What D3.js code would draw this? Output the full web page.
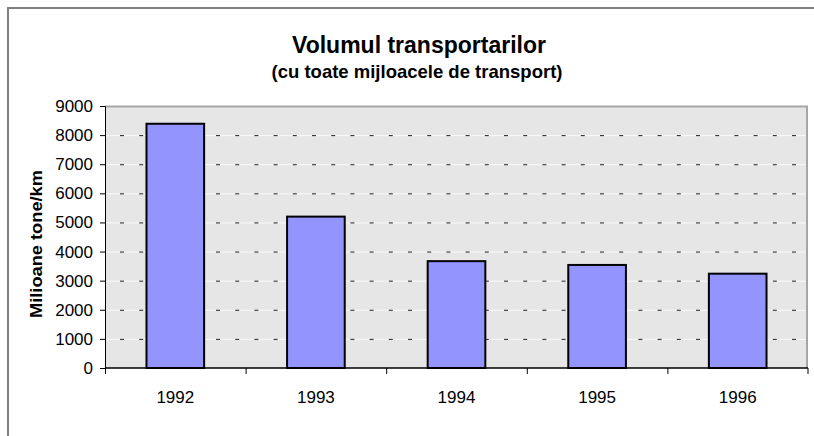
<!DOCTYPE html>
<html>
<head>
<meta charset="utf-8">
<script src="https://cdn.jsdelivr.net/npm/d3@7"></script>
<style>
  body { margin: 0; background: #fff; }
  text { font-family: "Liberation Sans", Arial, sans-serif; fill: #000; }
</style>
</head>
<body>
<div id="chart"></div>
<script>
// chart data
const years = ["1992", "1993", "1994", "1995", "1996"];
const volumes = [8390, 5200, 3670, 3540, 3240];
const yTicks = [0, 1000, 2000, 3000, 4000, 5000, 6000, 7000, 8000, 9000];

const svgWidth = 814;
const svgHeight = 436;

const margin = { top: 106, right: 6, bottom: 68, left: 105 };
const width = svgWidth - margin.left - margin.right;
const height = svgHeight - margin.top - margin.bottom;

const svg = d3.select("#chart")
  .append("svg")
  .attr("width", svgWidth)
  .attr("height", svgHeight);

// outer frame (runs off the right and bottom edges)
svg.append("rect")
  .attr("x", 8).attr("y", 8)
  .attr("width", 820).attr("height", 440)
  .attr("fill", "#fff")
  .attr("stroke", "#808080")
  .attr("stroke-width", 2);

// titles
svg.append("text")
  .attr("x", 419).attr("y", 53)
  .attr("text-anchor", "middle")
  .style("font-size", "23px")
  .style("font-weight", "bold")
  .text("Volumul transportarilor");

svg.append("text")
  .attr("x", 417).attr("y", 78)
  .attr("text-anchor", "middle")
  .style("font-size", "18.5px")
  .style("font-weight", "bold")
  .text("(cu toate mijloacele de transport)");

const chartGroup = svg.append("g")
  .attr("transform", `translate(${margin.left}, ${margin.top})`);

const xScale = d3.scaleBand()
  .domain(years)
  .range([0, width])
  .paddingInner(0.59)
  .paddingOuter(0.295);

const xBand = d3.scaleBand().domain(years).range([0, width]);

const yScale = d3.scaleLinear()
  .domain([0, 9000])
  .range([height, 0]);

// plot background
chartGroup.append("rect")
  .attr("width", width).attr("height", height)
  .attr("fill", "#e6e6e6");

// gridlines: light line with black dashes
const grid = yTicks.filter(d => d > 0 && d < 9000);
chartGroup.selectAll(".gridw")
  .data(grid)
  .enter()
  .append("line")
  .attr("x1", 0).attr("x2", width)
  .attr("y1", d => yScale(d) + 0.5).attr("y2", d => yScale(d) + 0.5)
  .attr("stroke", "#fafafa")
  .attr("stroke-width", 1);

chartGroup.selectAll(".gridd")
  .data(grid)
  .enter()
  .append("line")
  .attr("x1", 0).attr("x2", width)
  .attr("y1", d => yScale(d) + 0.5).attr("y2", d => yScale(d) + 0.5)
  .attr("stroke", "#222")
  .attr("stroke-width", 1)
  .attr("stroke-dasharray", "4,15.2")
  .attr("stroke-dashoffset", -15);

// top and right border
chartGroup.append("path")
  .attr("d", `M0,0.5H${width - 1}V${height}`)
  .attr("fill", "none")
  .attr("stroke", "#a6a6a6")
  .attr("stroke-width", 2);

// bars
chartGroup.selectAll(".bar")
  .data(volumes)
  .enter()
  .append("rect")
  .attr("x", (d, i) => xScale(years[i]))
  .attr("y", d => yScale(d))
  .attr("width", xScale.bandwidth())
  .attr("height", d => height - yScale(d))
  .attr("fill", "#9494ff")
  .attr("stroke", "#000")
  .attr("stroke-width", 2);

// y axis
const leftAxis = d3.axisLeft(yScale)
  .tickValues(yTicks)
  .tickSize(5)
  .tickPadding(7)
  .tickFormat(d3.format("d"));

const yAxis = chartGroup.append("g").call(leftAxis);
yAxis.select(".domain").attr("stroke", "#000");
yAxis.selectAll("text")
  .style("font-family", "\"Liberation Sans\", Arial, sans-serif")
  .style("font-size", "17px");

// x axis with ticks between categories
const xAxisG = chartGroup.append("g")
  .attr("transform", `translate(0, ${height})`);

xAxisG.append("line")
  .attr("x1", 0).attr("x2", width)
  .attr("stroke", "#000").attr("stroke-width", 1.5);

const bounds = years.map(y => xBand(y)).concat([width]);
xAxisG.selectAll(".xtick")
  .data(bounds)
  .enter()
  .append("line")
  .attr("x1", d => Math.min(d, width - 0.5) + 0.5)
  .attr("x2", d => Math.min(d, width - 0.5) + 0.5)
  .attr("y1", 0).attr("y2", 6)
  .attr("stroke", "#000");

xAxisG.selectAll(".xlabel")
  .data(years)
  .enter()
  .append("text")
  .attr("x", d => xBand(d) + xBand.bandwidth() / 2)
  .attr("y", 35)
  .attr("text-anchor", "middle")
  .style("font-size", "17px")
  .text(d => d);

// y axis title
svg.append("text")
  .attr("transform", `translate(42, 244) rotate(-90)`)
  .attr("text-anchor", "middle")
  .attr("textLength", 148)
  .attr("lengthAdjust", "spacingAndGlyphs")
  .style("font-size", "17px")
  .style("font-weight", "bold")
  .text("Milioane tone/km");
</script>
</body>
</html>
